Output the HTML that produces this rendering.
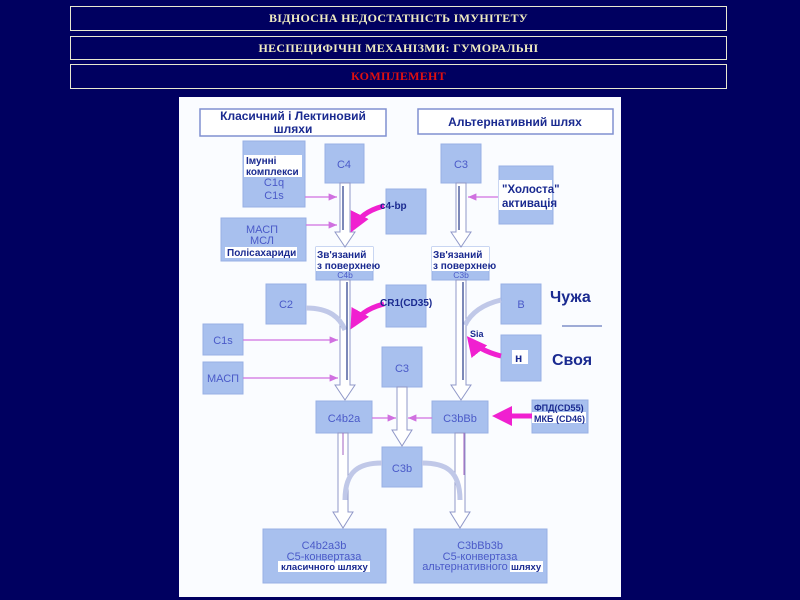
<!DOCTYPE html>
<html><head><meta charset="utf-8"><style>
html,body{margin:0;padding:0;background:#000060;width:800px;height:600px;overflow:hidden}
.h{position:absolute;left:70px;width:657px;border:1.5px solid #e8e8d0;box-sizing:border-box;text-align:center;font:bold 12px "Liberation Serif",serif;color:#f0ecc0;letter-spacing:0.3px}
</style></head><body>
<div class="h" style="top:6px;height:25px;line-height:23px">ВІДНОСНА НЕДОСТАТНІСТЬ ІМУНІТЕТУ</div>
<div class="h" style="top:36px;height:24px;line-height:22px">НЕСПЕЦИФІЧНІ МЕХАНІЗМИ: ГУМОРАЛЬНІ</div>
<div class="h" style="top:64px;height:25px;line-height:23px;color:#e01010">КОМПЛЕМЕНТ</div>
<svg style="position:absolute;left:0;top:0" width="800" height="600" font-family="Liberation Sans, sans-serif">
<defs>
<marker id="pk" markerWidth="8" markerHeight="8" refX="7" refY="4" orient="auto"><path d="M0,1 L7,4 L0,7z" fill="#d070e0"/></marker>
<marker id="mg" markerWidth="4" markerHeight="4" refX="3" refY="2" orient="auto"><path d="M0,0 L4,2 L0,4z" fill="#f020d0"/></marker>
</defs>
<rect x="179" y="97" width="442" height="500" fill="#fafcff"/>
<g fill="#fff" stroke="#8090d0" stroke-width="1.5">
<rect x="200" y="109" width="186" height="27"/><rect x="418" y="109" width="195" height="25"/></g>
<g font-weight="bold" fill="#1a2a90" font-size="12" text-anchor="middle">
<text x="293" y="120">Класичний і Лектиновий</text><text x="293" y="133">шляхи</text>
<text x="515" y="126">Альтернативний шлях</text></g>
<g fill="#a8c0ee" stroke="#98b0e4">
<rect x="243" y="141" width="62" height="66"/><rect x="325" y="144" width="39" height="39"/>
<rect x="441" y="144" width="40" height="39"/><rect x="499" y="166" width="54" height="58"/>
<rect x="386" y="189" width="40" height="45"/><rect x="221" y="218" width="85" height="43"/>
<rect x="316" y="247" width="57" height="33"/><rect x="432" y="247" width="57" height="33"/>
<rect x="266" y="284" width="40" height="40"/><rect x="386" y="285" width="40" height="42"/>
<rect x="501" y="284" width="40" height="40"/><rect x="203" y="324" width="40" height="31"/>
<rect x="501" y="335" width="40" height="46"/><rect x="203" y="362" width="40" height="32"/>
<rect x="382" y="347" width="40" height="40"/><rect x="316" y="401" width="56" height="32"/>
<rect x="432" y="401" width="56" height="32"/><rect x="532" y="400" width="56" height="33"/>
<rect x="382" y="447" width="40" height="40"/><rect x="263" y="529" width="123" height="54"/>
<rect x="414" y="529" width="133" height="54"/></g>
<g fill="#fff"><rect x="244" y="155" width="58" height="22"/><rect x="225" y="247" width="72" height="11"/>
<rect x="499" y="180" width="53" height="30"/><rect x="316" y="247" width="57" height="24"/><rect x="432" y="247" width="57" height="24"/>
<rect x="512" y="350" width="16" height="14"/><rect x="278" y="561" width="92" height="11"/><rect x="510" y="561" width="33" height="11"/>
<rect x="532" y="412" width="54" height="11"/></g>
<g fill="#fff" stroke="#9098c8" stroke-width="1">
<path d="M340,183 V232 H335 L345,247 L355,232 H350 V183z"/>
<path d="M456,183 V232 H451 L461,247 L471,232 H466 V183z"/>
<path d="M340,280 V385 H335 L345,400 L355,385 H350 V280z"/>
<path d="M456,280 V385 H451 L461,400 L471,385 H466 V280z"/>
<path d="M397,387 V430 H392 L402,446 L412,430 H407 V387z"/>
<path d="M338,433 V512 H333 L343,528 L353,512 H348 V433z"/>
<path d="M455,433 V512 H450 L460,528 L470,512 H465 V433z"/>
</g>
<g fill="none" stroke="#c0c8e8" stroke-width="5">
<path d="M382,463 C360,463 345,470 345,500"/><path d="M422,463 C445,463 460,470 460,500"/>
<path d="M306,308 C330,308 340,318 345,330"/><path d="M501,300 C480,305 470,315 465,325"/></g>
<g stroke="#5060a0" stroke-width="1.5"><line x1="347" y1="282" x2="347" y2="380"/><line x1="463" y1="282" x2="463" y2="380"/><line x1="343" y1="186" x2="343" y2="230"/><line x1="459" y1="186" x2="459" y2="230"/></g>
<g stroke="#d070e0" stroke-width="1.2" marker-end="url(#pk)">
<line x1="305" y1="197" x2="337" y2="197"/><line x1="306" y1="225" x2="337" y2="225"/>
<line x1="243" y1="340" x2="338" y2="340"/><line x1="243" y1="378" x2="338" y2="378"/>
<line x1="498" y1="197" x2="468" y2="197"/><line x1="372" y1="418" x2="396" y2="418"/><line x1="432" y1="418" x2="408" y2="418"/>
</g>
<g stroke="#a060c0" stroke-width="1"><line x1="343" y1="433" x2="343" y2="455"/><line x1="464" y1="433" x2="464" y2="475"/></g>
<g fill="none" stroke="#f020d0" stroke-width="5" marker-end="url(#mg)">
<path d="M384,206 C368,210 358,218 353,228"/><path d="M384,304 C368,308 358,316 353,325"/>
<path d="M501,356 C485,352 474,345 470,340"/><path d="M532,416 H497"/></g>
<line x1="562" y1="326" x2="602" y2="326" stroke="#8090c8" stroke-width="1.5"/>
<g fill="#4a5ac8" font-size="11" text-anchor="middle">
<text x="274" y="186">C1q</text><text x="274" y="199">C1s</text>
<text x="344" y="168">C4</text><text x="461" y="168">C3</text>
<text x="262" y="233">МАСП</text><text x="262" y="244">МСЛ</text>
<text x="345" y="278" font-size="8.5">C4b</text><text x="461" y="278" font-size="8.5">C3b</text>
<text x="286" y="308">C2</text><text x="521" y="308">B</text>
<text x="223" y="344">C1s</text><text x="223" y="382">МАСП</text>
<text x="402" y="372">C3</text><text x="344" y="422">C4b2a</text><text x="460" y="422">C3bBb</text>
<text x="402" y="472">C3b</text>
<text x="324" y="549">C4b2a3b</text><text x="324" y="560">C5-конвертаза</text>
<text x="480" y="549">C3bBb3b</text><text x="480" y="560">C5-конвертаза</text>
<text x="465" y="570">альтернативного</text>
</g>
<g fill="#1a2a90" font-weight="bold" font-size="10">
<text x="246" y="164">Імунні</text><text x="246" y="175">комплекси</text>
<text x="227" y="256">Полісахариди</text>
<text x="502" y="193" font-size="11.5">"Холоста"</text><text x="502" y="207" font-size="11.5">активація</text>
<text x="380" y="209">c4-bp</text><text x="380" y="306">CR1(CD35)</text>
<text x="317" y="258">Зв'язаний</text><text x="317" y="269">з поверхнею</text>
<text x="433" y="258">Зв'язаний</text><text x="433" y="269">з поверхнею</text>
<text x="470" y="337" font-size="9">Sia</text>
<text x="515" y="362" font-size="12">н</text>
<text x="534" y="411" font-size="9">ФПД(CD55)</text><text x="534" y="422" font-size="9">МКБ (CD46)</text>
<text x="281" y="570" font-size="9.5">класичного шляху</text><text x="511" y="570" font-size="9.5">шляху</text>
<text x="550" y="302" font-size="16">Чужа</text><text x="552" y="365" font-size="16">Своя</text>
</g>
</svg>
</body></html>
